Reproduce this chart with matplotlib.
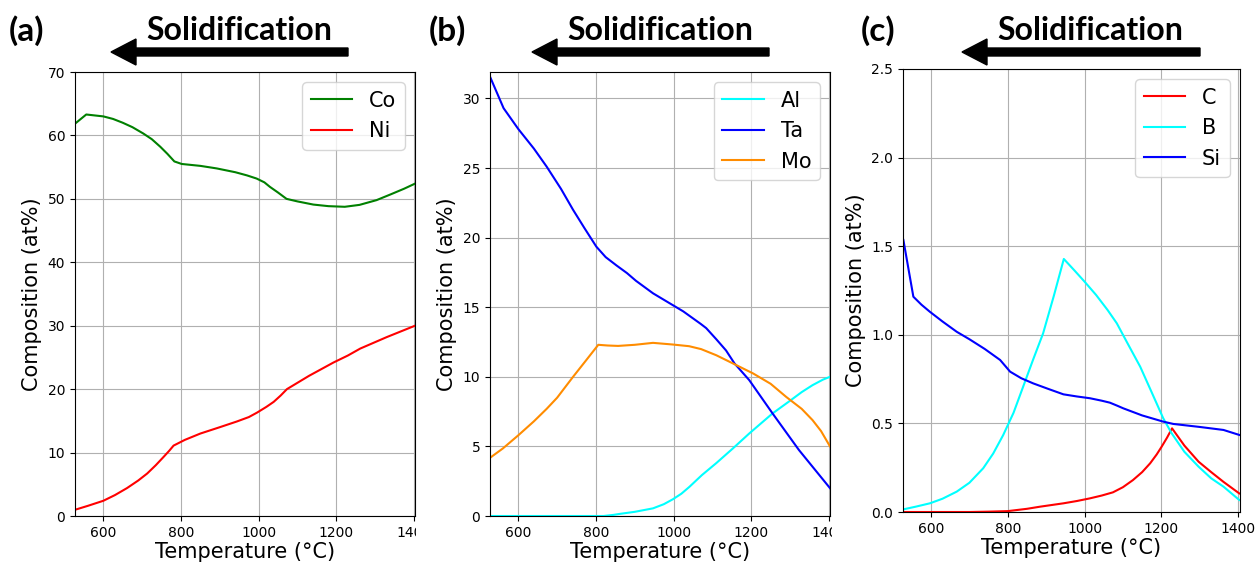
import matplotlib
matplotlib.use("Agg")
import matplotlib.pyplot as plt
from matplotlib.patches import FancyArrow
from matplotlib.transforms import Bbox, TransformedBbox

# ---------------- data ----------------
# Panel (a)
T_co = [528, 556, 600, 625, 650, 675, 703, 725, 747, 765, 783, 802, 850, 892, 940, 970, 995,
        1015, 1029, 1050, 1072, 1100, 1141, 1180, 1222, 1260, 1304, 1340, 1375, 1403]
Co   = [61.9, 63.3, 63.0, 62.6, 62.0, 61.3, 60.3, 59.4, 58.2, 57.1, 55.9, 55.5, 55.2, 54.8, 54.2,
        53.7, 53.2, 52.6, 51.9, 51.0, 50.0, 49.6, 49.1, 48.85, 48.75, 49.05, 49.8, 50.7, 51.6, 52.4]
T_ni = [528, 560, 600, 630, 661, 690, 713, 735, 755, 770, 781, 810, 850, 900, 944, 975, 996,
        1020, 1039, 1057, 1073, 1130, 1193, 1230, 1262, 1330, 1403]
Ni   = [1.0, 1.6, 2.4, 3.3, 4.4, 5.6, 6.7, 8.0, 9.3, 10.3, 11.1, 12.0, 13.0, 14.0, 14.9, 15.6, 16.3,
        17.2, 18.0, 19.0, 20.0, 22.1, 24.2, 25.3, 26.4, 28.2, 30.0]

# Panel (b)
T_al = [528, 700, 820, 845, 861, 900, 947, 975, 998, 1020, 1041, 1060, 1073, 1110, 1153, 1195,
        1255, 1300, 1330, 1358, 1385, 1403]
Al   = [0.0, 0.0, 0.0, 0.08, 0.15, 0.3, 0.55, 0.85, 1.2, 1.6, 2.1, 2.6, 2.94, 3.8, 4.86, 5.93,
        7.37, 8.28, 8.9, 9.4, 9.8, 10.0]
T_ta = [528, 562, 600, 640, 673, 710, 741, 770, 801, 825, 853, 880, 903, 947, 998, 1025, 1050,
        1070, 1084, 1110, 1135, 1157, 1195, 1255, 1323, 1403]
Ta   = [31.5, 29.3, 27.8, 26.4, 25.1, 23.5, 22.0, 20.7, 19.35, 18.6, 18.0, 17.45, 16.9, 16.0,
        15.15, 14.7, 14.2, 13.8, 13.5, 12.7, 11.9, 10.96, 9.76, 7.37, 4.74, 2.0]
T_mo = [528, 560, 600, 640, 673, 700, 741, 775, 806, 830, 857, 900, 947, 998, 1040, 1071, 1110,
        1153, 1205, 1250, 1290, 1330, 1358, 1380, 1403]
Mo   = [4.2, 4.85, 5.8, 6.8, 7.7, 8.5, 10.0, 11.2, 12.3, 12.25, 12.22, 12.3, 12.44, 12.32, 12.2,
        11.99, 11.55, 10.96, 10.24, 9.5, 8.56, 7.7, 6.89, 6.1, 5.0]

# Panel (c)
T_c = [528, 700, 750, 800, 850, 884, 945, 980, 1014, 1045, 1074, 1100, 1126, 1150, 1171, 1188,
       1201, 1215, 1228, 1260, 1297, 1330, 1362, 1403]
C   = [0.0, 0.0, 0.002, 0.005, 0.018, 0.03, 0.049, 0.062, 0.077, 0.093, 0.111, 0.14, 0.18, 0.225,
       0.275, 0.325, 0.369, 0.42, 0.472, 0.375, 0.284, 0.225, 0.17, 0.105]
T_b = [528, 560, 597, 630, 667, 700, 736, 762, 788, 815, 840, 866, 892, 920, 946, 975, 1000,
       1030, 1060, 1084, 1110, 1145, 1175, 1205, 1227, 1260, 1297, 1330, 1362, 1403]
B   = [0.015, 0.03, 0.049, 0.075, 0.115, 0.165, 0.247, 0.33, 0.434, 0.56, 0.707, 0.86, 1.008,
       1.22, 1.428, 1.36, 1.30, 1.225, 1.14, 1.065, 0.96, 0.82, 0.675, 0.529, 0.444, 0.34, 0.256,
       0.19, 0.143, 0.068]
T_si = [528, 554, 575, 597, 630, 667, 700, 740, 780, 795, 806, 835, 866, 905, 945, 980, 1014,
        1045, 1066, 1085, 1101, 1150, 1205, 1231, 1300, 1362, 1403]
Si   = [1.535, 1.215, 1.17, 1.13, 1.075, 1.017, 0.975, 0.92, 0.858, 0.82, 0.792, 0.755, 0.726,
        0.695, 0.664, 0.652, 0.642, 0.628, 0.617, 0.6, 0.585, 0.545, 0.51, 0.497, 0.48, 0.463, 0.435]

xticks = [600, 800, 1000, 1200, 1400]
panel_labels = ["(a)", "(b)", "(c)"]
title_text = "Solidification"
xlabel = "Temperature (°C)"
ylabel = "Composition (at%)"

# ---------------- figure ----------------
W, H = 1256, 563
fig = plt.figure(figsize=(W / 100, H / 100), dpi=100)

def px_rect(l, t, r, b):
    return [l / W, 1 - b / H, (r - l) / W, (b - t) / H]

axA = fig.add_axes(px_rect(75, 72, 415, 516))
axB = fig.add_axes(px_rect(490, 72, 830, 516))
axC = fig.add_axes(px_rect(903, 69, 1240, 512))

axA.plot(T_co, Co, color="green", lw=1.5, label="Co")
axA.plot(T_ni, Ni, color="red", lw=1.5, label="Ni")
axA.set_ylim(0, 70)
axA.set_yticks(range(0, 71, 10))

axB.plot(T_al, Al, color="cyan", lw=1.5, label="Al")
axB.plot(T_ta, Ta, color="blue", lw=1.5, label="Ta")
axB.plot(T_mo, Mo, color="darkorange", lw=1.5, label="Mo")
axB.set_ylim(0, 31.9)
axB.set_yticks(range(0, 31, 5))

axC.plot(T_c, C, color="red", lw=1.5, label="C")
axC.plot(T_b, B, color="cyan", lw=1.5, label="B")
axC.plot(T_si, Si, color="blue", lw=1.5, label="Si")
axC.set_ylim(0, 2.5)
axC.set_yticks([0.0, 0.5, 1.0, 1.5, 2.0, 2.5])

for ax, xmax in ((axA, 1403), (axB, 1403), (axC, 1405)):
    ax.set_xlim(527, xmax)
    ax.set_xticks(xticks)
    ax.grid(True)
    ax.tick_params(labelsize=10)
    ax.set_xlabel(xlabel, fontsize=15, labelpad=2)
    ax.set_ylabel(ylabel, fontsize=15, labelpad=4)
    ax.legend(loc="upper right", fontsize=15, handlelength=2.0)

# clip tick labels cut off at panel edges (as in the composite reference)
fig.canvas.draw()
for ax, edge in ((axA, 416), (axB, 832)):
    clipbox = TransformedBbox(Bbox([[0, 0], [edge / W, 1]]), fig.transFigure)
    for lab in ax.get_xticklabels():
        lab.set_clip_box(clipbox)
        lab.set_clip_on(True)

# ---------------- annotations ----------------
ann_font = ["Lato", "DejaVu Sans"]
panels = [
    (26, 239, 348, 111),
    (447, 660, 769, 532),
    (878, 1090, 1200, 962),
]
for lab, (lx, tx, ax0, ax1) in zip(panel_labels, panels):
    fig.text(lx / W, 1 - 31 / H, lab, ha="center", va="center",
             fontsize=24, fontweight="bold", family=ann_font)
    fig.text(tx / W, 1 - 31 / H, title_text, ha="center", va="center",
             fontsize=23, fontweight="bold", family=ann_font)
    y_in = (H - 52) / 100
    arr = FancyArrow(ax0 / 100, y_in, (ax1 - ax0) / 100, 0,
                     width=0.08, head_width=0.26, head_length=0.25,
                     length_includes_head=True, color="black",
                     transform=fig.dpi_scale_trans)
    fig.add_artist(arr)

fig.savefig("out.png", dpi=100)
